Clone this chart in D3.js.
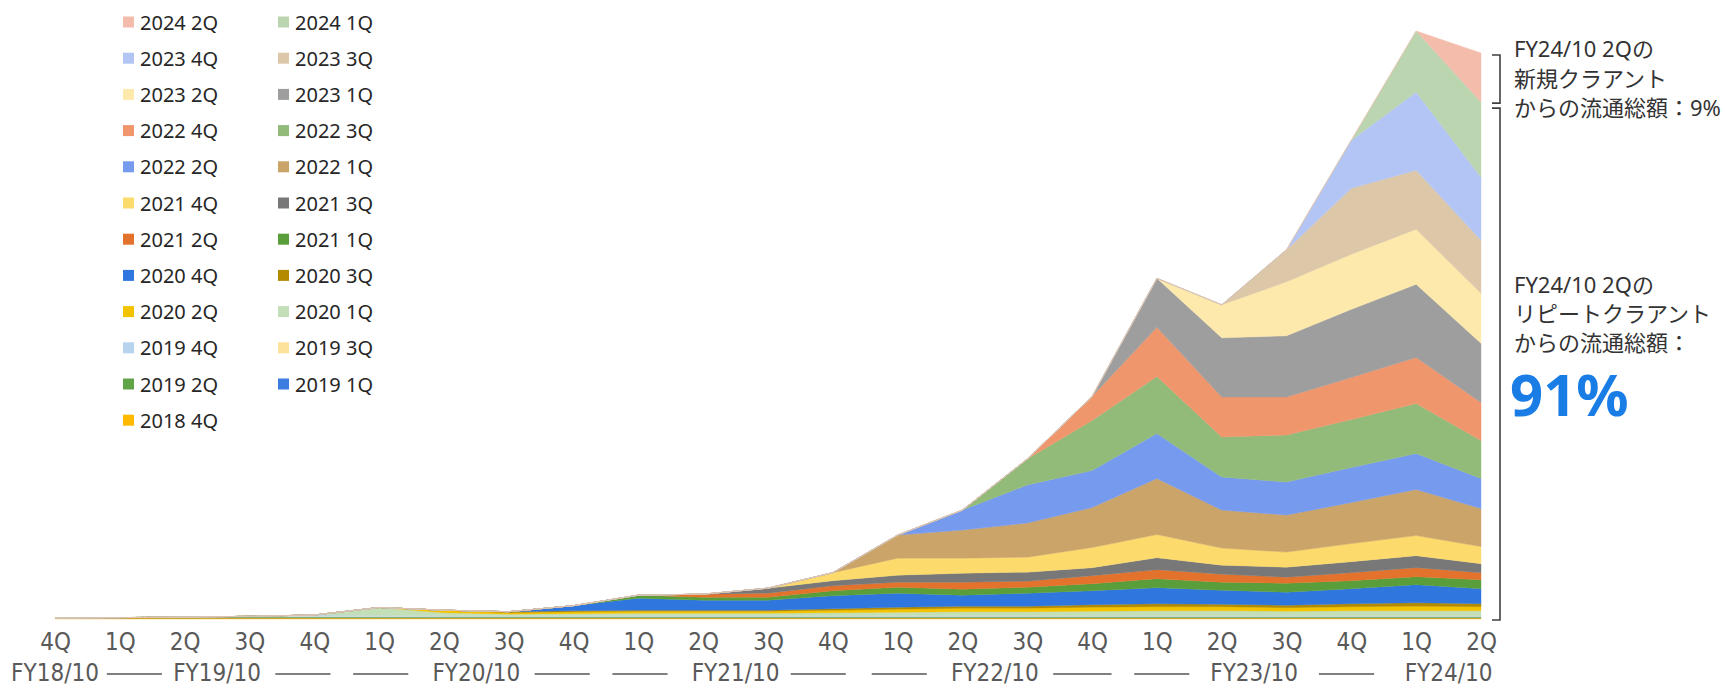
<!DOCTYPE html>
<html>
<head>
<meta charset="utf-8">
<script src="https://cdn.jsdelivr.net/npm/d3@7"></script>
<style>
  body { margin: 0; background: #fff; }
  svg { display: block; font-family: "Noto Sans", "Noto Sans CJK JP", sans-serif; }
  .legend text { font-size: 20px; fill: #262626; }
  .q-axis text { font-family: "Liberation Sans Narrow", "DejaVu Sans Condensed", "Noto Sans", sans-serif; font-size: 24px; fill: #595959; }
  .fy text { font-family: "Liberation Sans Narrow", "DejaVu Sans Condensed", "Noto Sans", sans-serif; font-size: 24px; fill: #595959; }
  .note { font-size: 22px; fill: #333; }
</style>
</head>
<body>
<svg id="chart" width="1725" height="688"></svg>
<script>
'use strict';

// x axis
var quarterLabels = ['4Q', '1Q', '2Q', '3Q', '4Q', '1Q', '2Q', '3Q', '4Q', '1Q', '2Q', '3Q',
  '4Q', '1Q', '2Q', '3Q', '4Q', '1Q', '2Q', '3Q', '4Q', '1Q', '2Q'];
var fyLabels = ['FY18/10', 'FY19/10', 'FY20/10', 'FY21/10', 'FY22/10', 'FY23/10', 'FY24/10'];
var fyAt = [0, 2.5, 6.5, 10.5, 14.5, 18.5, 21.5];
var fyDashes = [[0.8, 1.65], [3.4, 4.25], [4.6, 5.45], [7.4, 8.25], [8.6, 9.45],
  [11.35, 12.2], [12.6, 13.45], [15.4, 16.3], [16.65, 17.5], [19.5, 20.35]];

// cohorts, oldest first (bottom of the stack)
var cohortNames = ['2018 4Q', '2019 1Q', '2019 2Q', '2019 3Q', '2019 4Q', '2020 1Q', '2020 2Q', '2020 3Q',
  '2020 4Q', '2021 1Q', '2021 2Q', '2021 3Q', '2021 4Q', '2022 1Q', '2022 2Q', '2022 3Q',
  '2022 4Q', '2023 1Q', '2023 2Q', '2023 3Q', '2023 4Q', '2024 1Q', '2024 2Q'];
var cohortColors = ['#ffb900', '#3b7de0', '#5fa548', '#fde39a', '#b7d4ef', '#c3dfb8', '#f3c300', '#b38a00',
  '#2f77de', '#5a9e3c', '#e2722c', '#787878', '#fcda6c', '#cba46a', '#769aee', '#92bb79',
  '#f0966c', '#9e9e9e', '#fde9ab', '#dcc8a9', '#b3c5f5', '#bad5b0', '#f3bcab'];

// quarterly GMV per cohort (arbitrary units)
var c2018q4 = [1, 1, 1, 1, 1, 1, 1, 1, 1, 1, 1, 1, 1, 1, 1, 1, 1, 1, 1, 1, 1, 1, 1];
var c2019q1 = [0, .4, .4, .4, .4, .4, .4, .4, .4, .4, .4, .4, .4, .4, .4, .4, .4, .4, .4, .4, .4, .4, .4];
var c2019q2 = [0, 0, .5, .5, .5, .5, .5, .5, .5, .5, .5, .5, .5, .5, .5, .5, .5, .5, .5, .5, .5, .5, .5];
var c2019q3 = [0, 0, 0, .8, .6, .6, .6, .6, .6, .6, .6, .6, .6, .6, .6, .6, .6, .6, .6, .6, .6, .6, .6];
var c2019q4 = [0, 0, 0, 0, 1.5, 1, .8, .8, .8, .8, .8, .8, .8, .8, .8, .8, .8, .8, .8, .8, .8, .8, .8];
var c2020q1 = [0, 0, 0, 0, 0, 8, 3, 1.5, 2, 2.5, 2.5, 2.5, 3, 3.5, 4, 4, 4.5, 5, 5, 4.5, 5, 5, 5];
var c2020q2 = [0, 0, 0, 0, 0, 0, 2.5, 1.5, 2, 2, 2, 2, 2.5, 3, 3.5, 3.5, 4, 4, 4, 3.5, 4, 4.5, 4];
var c2020q3 = [0, 0, 0, 0, 0, 0, 0, 1, 1, 1, 1, 1, 1.5, 2, 2, 2, 2.5, 3, 2.5, 2.5, 3, 3.5, 3];
var c2020q4 = [0, 0, 0, 0, 0, 0, 0, 0, 5, 12, 10, 10, 13, 14, 11, 13, 14, 16, 14, 13, 15, 18, 15];
var c2021q1 = [0, 0, 0, 0, 0, 0, 0, 0, 0, 3, 3, 3, 5, 6, 6, 6, 7, 9, 8, 9, 8, 8, 9];
var c2021q2 = [0, 0, 0, 0, 0, 0, 0, 0, 0, 0, 3, 4, 5, 5, 7, 6, 8, 9, 8, 6, 8, 9, 7];
var c2021q3 = [0, 0, 0, 0, 0, 0, 0, 0, 0, 0, 0, 5, 5, 7, 9, 9, 8, 12, 9, 10, 11, 12, 9];
var c2021q4 = [0, 0, 0, 0, 0, 0, 0, 0, 0, 0, 0, 0, 8, 17, 15, 15, 20, 23, 17, 15, 18, 20, 17];
var c2022q1 = [0, 0, 0, 0, 0, 0, 0, 0, 0, 0, 0, 0, 0, 23, 28, 34, 40, 56, 38, 37, 41, 46, 38];
var c2022q2 = [0, 0, 0, 0, 0, 0, 0, 0, 0, 0, 0, 0, 0, 0, 20, 38, 37, 45, 33, 33, 35, 36, 30];
var c2022q3 = [0, 0, 0, 0, 0, 0, 0, 0, 0, 0, 0, 0, 0, 0, 0, 26, 50, 57, 40, 47, 48, 50, 38];
var c2022q4 = [0, 0, 0, 0, 0, 0, 0, 0, 0, 0, 0, 0, 0, 0, 0, 0, 24, 49, 40, 38, 42, 46, 38];
var c2023q1 = [0, 0, 0, 0, 0, 0, 0, 0, 0, 0, 0, 0, 0, 0, 0, 0, 0, 49, 59, 61, 68, 73, 59];
var c2023q2 = [0, 0, 0, 0, 0, 0, 0, 0, 0, 0, 0, 0, 0, 0, 0, 0, 0, 0, 33, 54, 55, 55, 50];
var c2023q3 = [0, 0, 0, 0, 0, 0, 0, 0, 0, 0, 0, 0, 0, 0, 0, 0, 0, 0, 0, 32, 66, 59, 53];
var c2023q4 = [0, 0, 0, 0, 0, 0, 0, 0, 0, 0, 0, 0, 0, 0, 0, 0, 0, 0, 0, 0, 48, 78, 63];
var c2024q1 = [0, 0, 0, 0, 0, 0, 0, 0, 0, 0, 0, 0, 0, 0, 0, 0, 0, 0, 0, 0, 0, 61, 75];
var c2024q2 = [0, 0, 0, 0, 0, 0, 0, 0, 0, 0, 0, 0, 0, 0, 0, 0, 0, 0, 0, 0, 0, 0, 49];

var seriesValues = [c2018q4, c2019q1, c2019q2, c2019q3, c2019q4, c2020q1, c2020q2, c2020q3,
  c2020q4, c2021q1, c2021q2, c2021q3, c2021q4, c2022q1, c2022q2, c2022q3,
  c2022q4, c2023q1, c2023q2, c2023q3, c2023q4, c2024q1, c2024q2];

var noteNew = ['FY24/10 2Qの', '新規クラアント', 'からの流通総額：9%'];
var noteRepeat = ['FY24/10 2Qの', 'リピートクラアント', 'からの流通総額：'];
var noteRepeatValue = '91%';

var svg = d3.select('#chart');

// table for d3.stack
var rows = quarterLabels.map(function (q, i) {
  var row = { i: i };
  cohortNames.forEach(function (name, k) { row[name] = seriesValues[k][i]; });
  return row;
});
var series = d3.stack().keys(cohortNames)(rows);
var maxTotal = d3.max(series[series.length - 1], function (d) { return d[1]; });

var x = d3.scaleLinear().domain([0, quarterLabels.length - 1]).range([55, 1481]);
var y = d3.scaleLinear().domain([0, maxTotal]).range([619, 31]);
var color = d3.scaleOrdinal().domain(cohortNames).range(cohortColors);

var area = d3.area()
  .x(function (d) { return x(d.data.i); })
  .y0(function (d) { return y(d[0]); })
  .y1(function (d) { return y(d[1]); });

svg.append('g').selectAll('path')
  .data(series)
  .join('path')
  .attr('d', area)
  .attr('fill', function (d) { return color(d.key); })
  .attr('stroke', function (d) { return color(d.key); })
  .attr('stroke-width', 0.4);

// quarter axis
var qAxis = svg.append('g')
  .attr('class', 'q-axis')
  .attr('transform', 'translate(0,619)')
  .call(d3.axisBottom(x)
    .tickValues(d3.range(quarterLabels.length))
    .tickFormat(function (i) { return quarterLabels[i]; })
    .tickSize(0)
    .tickPadding(14));
qAxis.select('.domain').remove();

// fiscal year row
var fy = svg.append('g').attr('class', 'fy');
fy.selectAll('text')
  .data(fyLabels)
  .join('text')
  .attr('x', function (d, i) { return x(fyAt[i]); })
  .attr('y', 673)
  .attr('text-anchor', 'middle')
  .attr('dominant-baseline', 'central')
  .text(function (d) { return d; });
fy.selectAll('line')
  .data(fyDashes)
  .join('line')
  .attr('x1', function (d) { return x(d[0]); })
  .attr('x2', function (d) { return x(d[1]); })
  .attr('y1', 674).attr('y2', 674)
  .attr('stroke', '#7f7f7f')
  .attr('stroke-width', 2);

// legend, newest first, two columns
var legendItems = cohortNames.slice().reverse();
var legend = svg.append('g').attr('class', 'legend');
var li = legend.selectAll('g')
  .data(legendItems)
  .join('g')
  .attr('transform', function (d, k) {
    return 'translate(' + (k % 2 ? 278 : 123) + ',' + (22 + Math.floor(k / 2) * 36.2) + ')';
  });
li.append('rect')
  .attr('x', 0).attr('y', -5.5)
  .attr('width', 11).attr('height', 11)
  .attr('fill', function (d) { return color(d); });
li.append('text')
  .attr('x', 17)
  .attr('dominant-baseline', 'central')
  .text(function (d) { return d; });

// brackets on the last quarter
var last = series[series.length - 1][quarterLabels.length - 1];
var yTop = y(last[1]), yMid = y(last[0]), yBot = y(0);
var bx = 1500;
function bracket(a, b) {
  svg.append('path')
    .attr('d', 'M' + (bx - 8) + ',' + a + 'H' + bx + 'V' + b + 'H' + (bx - 8))
    .attr('fill', 'none')
    .attr('stroke', '#404040')
    .attr('stroke-width', 1.6);
}
bracket(yTop + 2, yMid + 1);
bracket(yMid + 6, yBot + 1);

// notes
var notes = svg.append('g').attr('class', 'note');
noteNew.forEach(function (t, i) {
  notes.append('text').attr('x', 1514).attr('y', 48 + i * 29.5)
    .attr('dominant-baseline', 'central').text(t);
});
noteRepeat.forEach(function (t, i) {
  notes.append('text').attr('x', 1514).attr('y', 284 + i * 29)
    .attr('dominant-baseline', 'central').text(t);
});
svg.append('text')
  .attr('x', 1510).attr('y', 393)
  .attr('dominant-baseline', 'central')
  .style('font-size', '58px')
  .style('font-weight', 700)
  .style('fill', '#1a7de6')
  .text(noteRepeatValue);
</script>
</body>
</html>
